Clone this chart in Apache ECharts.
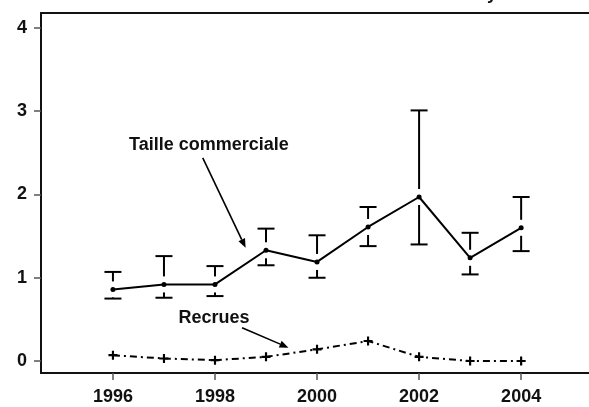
<!DOCTYPE html>
<html>
<head>
<meta charset="utf-8">
<script src="https://cdn.jsdelivr.net/npm/echarts@6/dist/echarts.min.js"></script>
<style>
html,body{margin:0;padding:0;background:#fff;}
#chart{width:589px;height:407px;}
</style>
</head>
<body>
<div id="chart"></div>
<script>
// valeurs
var annees = [1996, 1997, 1998, 1999, 2000, 2001, 2002, 2003, 2004];
var tailleMoy = [0.86, 0.92, 0.92, 1.33, 1.19, 1.61, 1.97, 1.24, 1.60];
var tailleBas = [0.75, 0.76, 0.78, 1.15, 1.00, 1.38, 1.40, 1.04, 1.32];
var tailleHaut = [1.07, 1.26, 1.14, 1.59, 1.51, 1.85, 3.01, 1.54, 1.97];
var recrues = [0.07, 0.03, 0.01, 0.05, 0.14, 0.24, 0.05, 0.00, 0.00];
var xTicks = [1996, 1998, 2000, 2002, 2004];
var yTicks = [0, 1, 2, 3, 4];

// annotations (coordonnees en unites des axes)
var notes = [
    {text: 'Taille commerciale', at: [1997.88, 2.59], from: [1997.76, 2.44], to: [1998.60, 1.36]},
    {text: 'Recrues', at: [1997.98, 0.52], from: [1998.53, 0.40], to: [1999.44, 0.16]}
];

var font = '"Liberation Sans", Arial, sans-serif';
var chart = echarts.init(document.getElementById('chart'));

var barres = annees.map(function (a, i) {
    return [a, tailleMoy[i], tailleBas[i], tailleHaut[i]];
});

function renderBarre(params, api) {
    var p = api.coord([api.value(0), api.value(1)]);
    var bas = api.coord([api.value(0), api.value(2)]);
    var haut = api.coord([api.value(0), api.value(3)]);
    var gap = 8, cap = 8.5;
    var st = {stroke: '#000', lineWidth: 2};
    var kids = [];
    if (p[1] - haut[1] > gap) {
        kids.push({type: 'line', shape: {x1: p[0], y1: haut[1], x2: p[0], y2: p[1] - gap}, style: st});
    }
    if (bas[1] - p[1] > gap) {
        kids.push({type: 'line', shape: {x1: p[0], y1: p[1] + gap, x2: p[0], y2: bas[1]}, style: st});
    }
    kids.push({type: 'line', shape: {x1: p[0] - cap, y1: haut[1], x2: p[0] + cap, y2: haut[1]}, style: st});
    kids.push({type: 'line', shape: {x1: p[0] - cap, y1: bas[1], x2: p[0] + cap, y2: bas[1]}, style: st});
    return {type: 'group', children: kids};
}

var labelStyle = {color: '#111', fontFamily: font, fontWeight: 'bold', fontSize: 18};

var option = {
    animation: false,
    backgroundColor: '#fff',
    grid: {left: 41, right: 0, top: 13, bottom: 34},
    xAxis: [{
        type: 'value', min: 1994.59, max: 2005.33,
        axisLine: {show: true, onZero: false, lineStyle: {color: '#111', width: 2}},
        axisTick: {show: true, customValues: xTicks, length: 7, lineStyle: {color: '#555', width: 1.5}},
        axisLabel: Object.assign({customValues: xTicks, margin: 15, formatter: function (v) { return String(v); }}, labelStyle),
        splitLine: {show: false}
    }, {
        // bord du haut du cadre
        type: 'value', position: 'top', min: 1994.59, max: 2005.33,
        axisLine: {show: true, onZero: false, lineStyle: {color: '#111', width: 2}},
        axisTick: {show: false}, axisLabel: {show: false}, splitLine: {show: false}
    }],
    yAxis: {
        type: 'value', min: -0.144, max: 4.18,
        axisLine: {show: true, onZero: false, lineStyle: {color: '#111', width: 2}},
        axisTick: {show: true, customValues: yTicks, length: 7, lineStyle: {color: '#555', width: 1.5}},
        axisLabel: Object.assign({customValues: yTicks, margin: 14}, labelStyle),
        splitLine: {show: false}
    },
    series: [
        {
            type: 'custom', name: 'barres', data: barres,
            encode: {x: 0, y: [1, 2, 3]},
            renderItem: renderBarre, z: 2
        },
        {
            type: 'line', name: 'Taille commerciale',
            data: annees.map(function (a, i) { return [a, tailleMoy[i]]; }),
            symbol: 'circle', symbolSize: 5,
            itemStyle: {color: '#000'},
            lineStyle: {color: '#000', width: 2},
            z: 3
        },
        {
            type: 'line', name: 'Recrues',
            data: annees.map(function (a, i) { return [a, recrues[i]]; }),
            symbol: 'path://M-1.2,-5H1.2V-1.2H5V1.2H1.2V5H-1.2V1.2H-5V-1.2H-1.2Z', symbolSize: 9,
            itemStyle: {color: '#000'},
            lineStyle: {color: '#000', width: 2, type: [7, 4, 2, 4]},
            z: 3
        }
    ]
};
chart.setOption(option);

// textes, fleches et titre coupe en haut
var deco = [];
notes.forEach(function (n) {
    var p = chart.convertToPixel({gridIndex: 0}, n.at);
    var a = chart.convertToPixel({gridIndex: 0}, n.from);
    var b = chart.convertToPixel({gridIndex: 0}, n.to);
    var dx = b[0] - a[0], dy = b[1] - a[1];
    var len = Math.sqrt(dx * dx + dy * dy);
    var ux = dx / len, uy = dy / len;
    var hl = 9, hw = 3.6;
    var bx = b[0] - ux * hl, by = b[1] - uy * hl;
    deco.push({
        type: 'text', x: p[0], y: p[1],
        style: {text: n.text, fill: '#111', font: 'bold 18px ' + font, align: 'center', verticalAlign: 'middle'}
    });
    deco.push({
        type: 'line', shape: {x1: a[0], y1: a[1], x2: bx, y2: by},
        style: {stroke: '#000', lineWidth: 1.6}
    });
    deco.push({
        type: 'polygon',
        shape: {points: [[b[0], b[1]], [bx - uy * hw, by + ux * hw], [bx + uy * hw, by - ux * hw]]},
        style: {fill: '#000'}
    });
});
deco.push({
    type: 'text', x: 497, y: -6,
    style: {text: 'Baie de Fundy', fill: '#111', font: 'bold 18px ' + font, align: 'right', verticalAlign: 'middle'}
});
chart.setOption({graphic: deco});
</script>
</body>
</html>
